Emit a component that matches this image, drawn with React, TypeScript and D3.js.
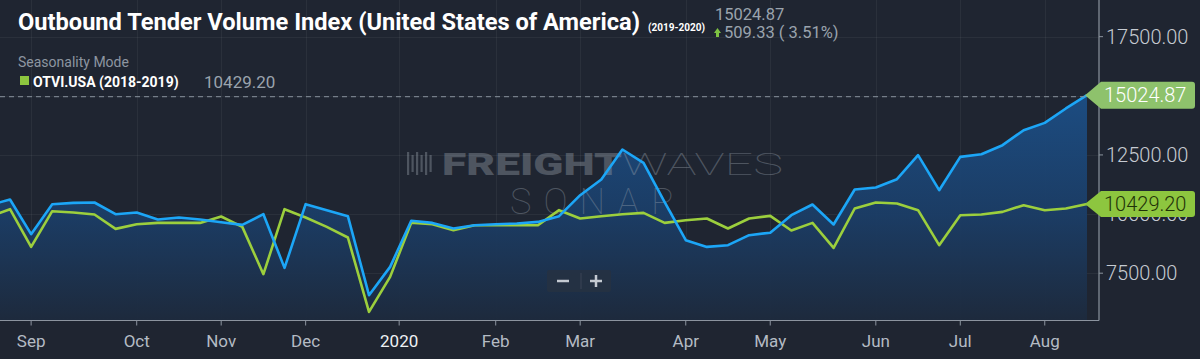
import React from "react";
import * as d3 from "d3";

// ---- data ----
const startDate = "2019-08-18"; // first weekly observation (partly off-screen)
const blueValues = [10370, 10616, 9149, 10417, 10472, 10489, 9995, 10066, 9770, 9855, 9770, 9656, 9542, 9995, 7724, 10417, 10164, 9910, 6570, 7766, 9720, 9627, 9390, 9529, 9572, 9601, 9669, 9910, 10798, 11462, 12730, 12163, 10502, 8895, 8612, 8684, 9107, 9212, 9952, 10405, 9559, 11039, 11123, 11474, 12489, 11009, 12417, 12531, 12912, 13546, 13855, 14464, 15024.87];
const greenValues = [9880, 10206, 8612, 10121, 10066, 9982, 9373, 9572, 9627, 9627, 9627, 9897, 9458, 7458, 10206, 9855, 9458, 9009, 5864, 7344, 9635, 9572, 9318, 9529, 9529, 9529, 9529, 10164, 9813, 9910, 9995, 10049, 9627, 9741, 9813, 9390, 9813, 9923, 9305, 9627, 8570, 10235, 10489, 10447, 10164, 8684, 9952, 9982, 10092, 10375, 10164, 10235, 10429.2];
const xTickDates = ["2019-09-01", "2019-10-06", "2019-11-03", "2019-12-01", "2020-01-01", "2020-02-02", "2020-03-01", "2020-04-05", "2020-05-03", "2020-06-07", "2020-07-05", "2020-08-02"];
const xTickLabels = ["Sep", "Oct", "Nov", "Dec", "2020", "Feb", "Mar", "Apr", "May", "Jun", "Jul", "Aug"];
const yTicks = [7500, 10000, 12500, 15000, 17500];
const titleText = "Outbound Tender Volume Index (United States of America)";
const titleYears = "(2019-2020)";
const lastValue = "15024.87";
const changeText = "509.33 ( 3.51%)";
const legendMode = "Seasonality Mode";
const legendName = "OTVI.USA (2018-2019)";
const legendValue = "10429.20";

const W = 1200;
const H = 359;
const plotRight = 1099;
const plotBottom = 320.5;

export default function App() {
  const parse = d3.utcParse("%Y-%m-%d");
  const start = parse(startDate) as Date;
  const dates = d3.range(blueValues.length).map((i) => d3.utcDay.offset(start, 7 * i));
  const x = d3
    .scaleUtc()
    .domain([parse("2019-08-25") as Date, parse("2020-08-16") as Date])
    .range([10, 1087]);
  const y = d3.scaleLinear().domain([5500, 19050]).range([plotBottom, 0]);

  const lineGen = d3
    .line<number>()
    .x((_, i) => x(dates[i]))
    .y((d) => y(d));
  const areaGen = d3
    .area<number>()
    .x((_, i) => x(dates[i]))
    .y0(plotBottom)
    .y1((d) => y(d));

  const lastIdx = blueValues.length - 1;
  const lastX = x(dates[lastIdx]);
  const blueLastY = y(blueValues[lastIdx]);
  const greenLastY = y(greenValues[lastIdx]);

  const tag = (yy: number, h: number) => {
    const l = 1101;
    const r = 1195;
    const t = yy - h / 2;
    const b = yy + h / 2;
    const rr = 3;
    return `M${lastX - 2},${yy} L${l},${t} L${r - rr},${t} Q${r},${t} ${r},${t + rr} L${r},${b - rr} Q${r},${b} ${r - rr},${b} L${l},${b} Z`;
  };

  const font = "Roboto, 'Noto Sans', sans-serif";

  return (
    <svg
      width={W}
      height={H}
      style={{ position: "absolute", left: 0, top: 0, display: "block" }}
      fontFamily={font}
    >
      <defs>
        <linearGradient id="areaGrad" gradientUnits="userSpaceOnUse" x1="0" y1="90" x2="0" y2={plotBottom}>
          <stop offset="0%" stopColor="#1c4f87" />
          <stop offset="55%" stopColor="#1b3d66" />
          <stop offset="100%" stopColor="#1d2a3d" />
        </linearGradient>
        <clipPath id="plotClip">
          <rect x={0} y={0} width={plotRight} height={plotBottom} />
        </clipPath>
      </defs>
      <rect x={0} y={0} width={W} height={H} fill="#1f2531" />

      {/* grid */}
      <g stroke="#ffffff" strokeOpacity={0.05} strokeWidth={1}>
        {xTickDates.map((d) => {
          const xx = Math.round(x(parse(d) as Date)) + 0.5;
          return <line key={d} x1={xx} x2={xx} y1={0} y2={plotBottom} />;
        })}
        {yTicks.map((t) => (
          <line key={t} x1={0} x2={plotRight} y1={Math.round(y(t)) + 0.5} y2={Math.round(y(t)) + 0.5} />
        ))}
      </g>

      <g clipPath="url(#plotClip)">
        <path d={areaGen(blueValues) || ""} fill="url(#areaGrad)" opacity={0.95} />
      </g>

      {/* watermark */}
      <g fill="#9aa3ae" opacity={0.38}>
        {d3.range(6).map((i) => (
          <rect key={i} x={407 + i * 4.5} y={152 + (i % 2) * 3} width={2.2} height={23 - (i % 2) * 6} />
        ))}
        <text x={442} y={175} fontSize={32} fontWeight={900} textLength={180} lengthAdjust="spacingAndGlyphs">
          FREIGHT
        </text>
        <text x={622} y={175} fontSize={32} fontWeight={100} textLength={161} lengthAdjust="spacingAndGlyphs">
          WAVES
        </text>
        <text x={510} y={214} fontSize={36} fontWeight={100} textLength={177} lengthAdjust="spacingAndGlyphs" letterSpacing={12}>
          SONAR
        </text>
      </g>

      <g clipPath="url(#plotClip)">
        <path d={lineGen(greenValues) || ""} fill="none" stroke="#9ccf3d" strokeWidth={2.6} strokeLinejoin="round" />
        <path d={lineGen(blueValues) || ""} fill="none" stroke="#1ca6f7" strokeWidth={2.6} strokeLinejoin="round" />
      </g>

      {/* last value dashed line */}
      <line x1={0} x2={plotRight} y1={blueLastY + 1.5} y2={blueLastY + 1.5} stroke="#8a939e" strokeWidth={1} strokeDasharray="5,4" />

      {/* zoom buttons */}
      <rect x={547} y={270} width={64} height={22} rx={2} fill="#263142" opacity={0.85} />
      <line x1={581} x2={581} y1={273} y2={289} stroke="#3a4556" strokeWidth={1} />
      <g stroke="#c4cad2" strokeWidth={2.5}>
        <line x1={557} x2={569} y1={281} y2={281} />
        <line x1={590} x2={602} y1={281} y2={281} />
        <line x1={596} x2={596} y1={275} y2={287} />
      </g>

      {/* axes */}
      <line x1={0} x2={plotRight} y1={plotBottom} y2={plotBottom} stroke="#8c949f" strokeWidth={1.2} />
      <line x1={plotRight} x2={plotRight} y1={0} y2={plotBottom} stroke="#8c949f" strokeWidth={1.2} />
      {xTickDates.map((d, i) => {
        const xx = x(parse(d) as Date);
        return (
          <g key={d}>
            <line x1={xx} x2={xx} y1={plotBottom} y2={plotBottom + 5} stroke="#8c949f" strokeWidth={1} />
            <text
              x={xx}
              y={347}
              textAnchor="middle"
              fontSize={17}
              fill={xTickLabels[i] === "2020" ? "#eef1f4" : "#b4bbc4"}
            >
              {xTickLabels[i]}
            </text>
          </g>
        );
      })}
      {yTicks.map((t) => (
        <g key={t}>
          <line x1={plotRight} x2={plotRight + 4} y1={y(t)} y2={y(t)} stroke="#8c949f" strokeWidth={1} />
          <text x={1106} y={y(t) + 7} fontSize={20} fontWeight={300} fill="#c6cbd2">
            {d3.format(".2f")(t)}
          </text>
        </g>
      ))}

      {/* last value tags */}
      <path d={tag(blueLastY, 27)} fill="#8ec26c" />
      <text x={1104} y={blueLastY + 7} fontSize={20} fontWeight={300} fill="#ffffff">
        {d3.format(".2f")(blueValues[lastIdx])}
      </text>
      <path d={tag(greenLastY, 26)} fill="#8dc63f" />
      <text x={1104} y={greenLastY + 7} fontSize={20} fontWeight={300} fill="#1f3208">
        {d3.format(".2f")(greenValues[lastIdx])}
      </text>

      {/* title */}
      <text x={18} y={30} fontSize={24} fontWeight={700} fill="#ffffff" textLength={622} lengthAdjust="spacingAndGlyphs">
        {titleText}
      </text>
      <text x={648} y={31} fontSize={11} fontWeight={700} fill="#ffffff" textLength={57} lengthAdjust="spacingAndGlyphs">
        {titleYears}
      </text>
      <text x={715} y={20} fontSize={16.5} fill="#9aa3ad">
        {lastValue}
      </text>
      <path d="M717.5,28 L721,33 L719,33 L719,37 L716,37 L716,33 L714,33 Z" fill="#7dc242" />
      <text x={724} y={38} fontSize={16.5} fill="#9aa3ad">
        {changeText}
      </text>

      {/* legend */}
      <text x={18} y={67} fontSize={14} fill="#8d96a1">
        {legendMode}
      </text>
      <rect x={20} y={76} width={9} height={9} fill="#8dc63f" />
      <text x={33} y={87} fontSize={14} fontWeight={700} fill="#ffffff">
        {legendName}
      </text>
      <text x={204} y={88} fontSize={17} fill="#9aa3ad">
        {legendValue}
      </text>
    </svg>
  );
}
